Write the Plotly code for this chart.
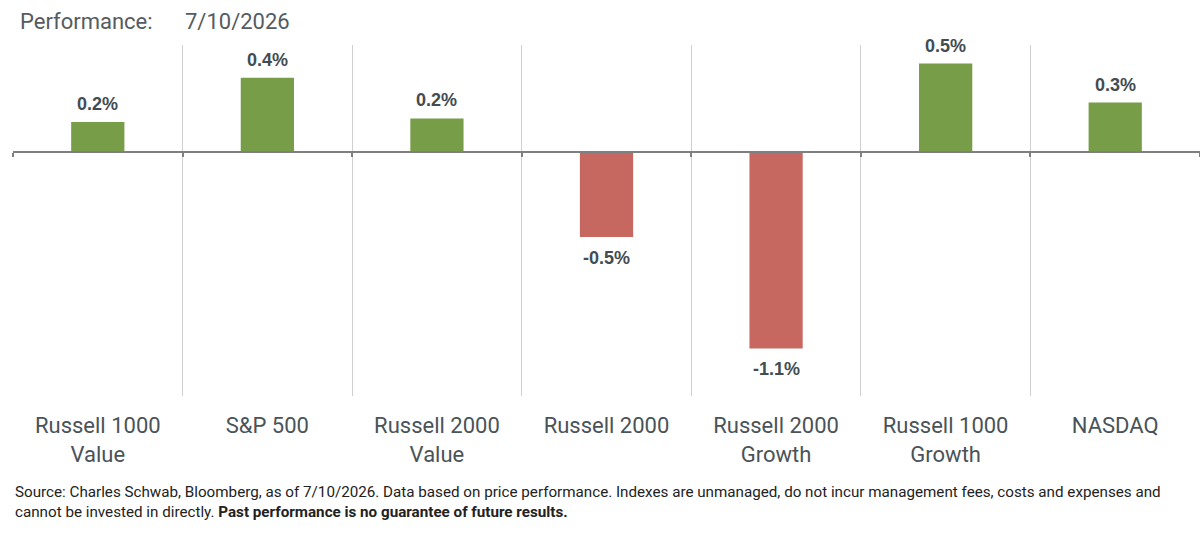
import plotly.graph_objects as go

categories = ["Russell 1000<br>Value", "S&P 500", "Russell 2000<br>Value", "Russell 2000",
              "Russell 2000<br>Growth", "Russell 1000<br>Growth", "NASDAQ"]
values = [0.17, 0.42, 0.19, -0.48, -1.11, 0.50, 0.28]
labels = [f"{v:.1f}%" for v in values]

title_text = "Performance:"
date_text = "7/10/2026"
footer_line1 = ("Source: Charles Schwab, Bloomberg, as of 7/10/2026. Data based on price performance. "
                "Indexes are unmanaged, do not incur management fees, costs and expenses and")
footer_line2 = ("cannot be invested in directly. <b>Past performance is no guarantee of future results.</b>")

GREEN = "#789D48"
RED = "#C66860"
ymin, ymax = -1.379, 0.605

colors = [GREEN if v >= 0 else RED for v in values]

fig = go.Figure()
fig.add_trace(go.Bar(
    x=categories, y=values, marker=dict(color=colors, line=dict(width=0)),
    width=0.314, showlegend=False, hoverinfo="skip",
))
# invisible helper trace to draw the zero axis with boundary ticks
fig.add_trace(go.Scatter(
    x=categories, y=values, xaxis="x2", mode="markers",
    marker=dict(opacity=0, size=1), showlegend=False, hoverinfo="skip",
))

zero_pos = (0 - ymin) / (ymax - ymin)

fig.update_layout(
    width=1200, height=537,
    margin=dict(l=13, r=0, t=45, b=141),
    paper_bgcolor="white", plot_bgcolor="white",
    font=dict(family="Roboto, Open Sans, sans-serif", color="#434C52"),
    xaxis=dict(
        type="category", tickson="boundaries", showgrid=True, gridcolor="#CFCFCF", gridwidth=1,
        showline=False, ticks="", zeroline=False,
        tickfont=dict(family="Roboto, sans-serif", size=22, color="#4A5358"),
        ticklabelstandoff=14,
    ),
    xaxis2=dict(
        type="category", overlaying="x", matches="x", anchor="free", position=zero_pos,
        showline=True, linecolor="#7F7F7F", linewidth=2,
        ticks="outside", tickson="boundaries", ticklen=4, tickwidth=1.5, tickcolor="#7F7F7F",
        showticklabels=False, showgrid=False, zeroline=False,
    ),
    yaxis=dict(range=[ymin, ymax], showgrid=False, zeroline=False, showticklabels=False,
               showline=False, ticks=""),
    bargap=0.686,
)

for cat, val, lab in zip(categories, values, labels):
    pos = val >= 0
    fig.add_annotation(
        x=cat, y=val, text=f"<b>{lab}</b>", showarrow=False,
        yanchor="bottom" if pos else "top", yshift=6 if pos else -9,
        font=dict(family="Liberation Sans, Arial, sans-serif", size=18, color="#434C52"),
    )

fig.add_annotation(text=title_text, xref="paper", yref="paper", x=0, xanchor="left",
                   y=1, yanchor="bottom", yshift=9, showarrow=False, xshift=5,
                   font=dict(family="Roboto, sans-serif", size=22, color="#555B60"))
fig.add_annotation(text=date_text, xref="paper", yref="paper", x=0, xanchor="left",
                   y=1, yanchor="bottom", yshift=9, xshift=170, showarrow=False,
                   font=dict(family="Roboto, sans-serif", size=22, color="#555B60"))
fig.add_annotation(text=footer_line1 + "<br>" + footer_line2, xref="paper", yref="paper",
                   x=0, xanchor="left", xshift=0, y=0, yanchor="top", yshift=-85,
                   align="left", showarrow=False,
                   font=dict(family="Roboto, sans-serif", size=15.2, color="#222222"))

fig.write_html("out.html")
